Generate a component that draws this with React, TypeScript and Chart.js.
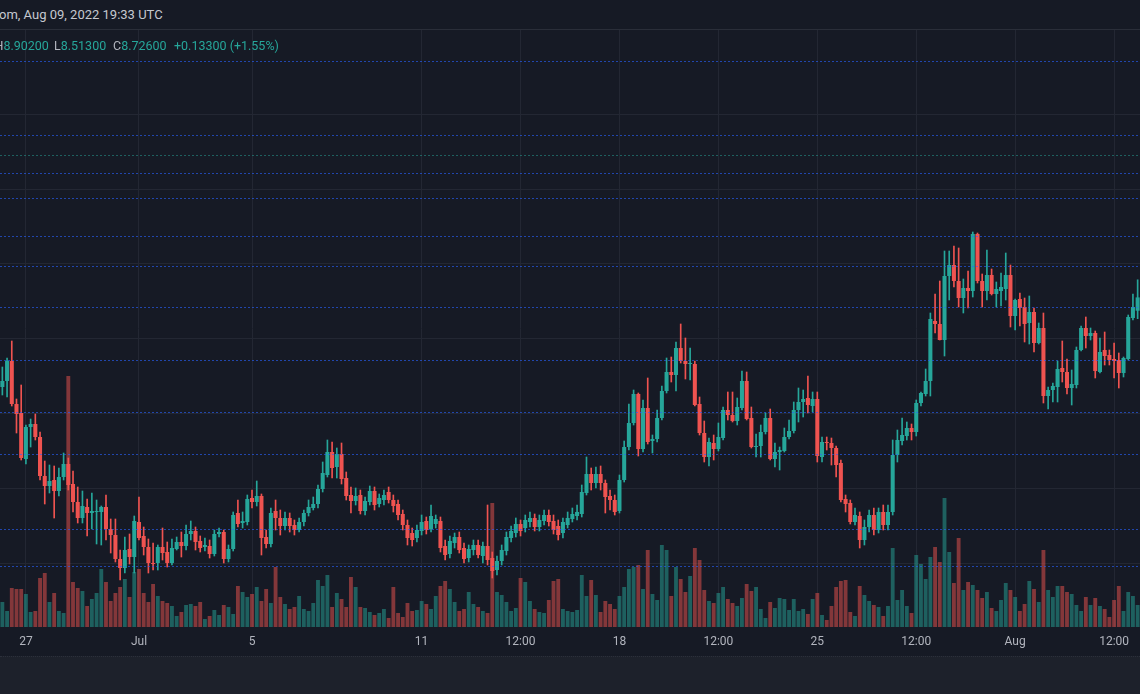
import React, { useEffect, useRef } from 'react';
import { Chart, registerables } from 'chart.js';

Chart.register(...registerables);

// 4h candles starting Jun 26 2022 04:00 UTC
const START_UTC = Date.UTC(2022, 5, 26, 4, 0);
const STEP_HOURS = 4;

const OPEN = [
  7.83, 7.89, 8.09, 7.66, 7.57, 7.11, 7.43, 7.46, 7.33, 6.94,
  6.84, 6.90, 6.79, 6.93, 7.06, 6.86, 6.68, 6.52, 6.63, 6.57,
  6.58, 6.58, 6.63, 6.41, 6.35, 6.11, 6.02, 6.21, 6.13, 6.48,
  6.34, 6.23, 6.07, 6.07, 6.23, 6.18, 6.07, 6.21, 6.28, 6.24,
  6.36, 6.39, 6.29, 6.23, 6.24, 6.16, 6.36, 6.38, 6.11, 6.21,
  6.57, 6.47, 6.48, 6.72, 6.68, 6.74, 6.33, 6.26, 6.59, 6.52,
  6.44, 6.52, 6.45, 6.40, 6.48, 6.57, 6.62, 6.66, 6.81, 6.95,
  7.18, 7.03, 7.16, 6.92, 6.75, 6.69, 6.75, 6.59, 6.68, 6.79,
  6.66, 6.70, 6.78, 6.70, 6.66, 6.56, 6.45, 6.37, 6.32, 6.39,
  6.49, 6.41, 6.46, 6.49, 6.24, 6.16, 6.27, 6.33, 6.22, 6.12,
  6.20, 6.25, 6.14, 6.24, 6.12, 6.00, 6.09, 6.19, 6.32, 6.37,
  6.46, 6.42, 6.48, 6.52, 6.43, 6.49, 6.55, 6.49, 6.44, 6.37,
  6.45, 6.51, 6.54, 6.56, 6.77, 6.96, 6.87, 6.96, 6.87, 6.74,
  6.70, 6.59, 6.90, 7.23, 7.47, 7.76, 7.21, 7.62, 7.29, 7.31,
  7.52, 7.79, 7.98, 7.95, 8.22, 8.09, 8.06, 8.06, 7.66, 7.37,
  7.13, 7.27, 7.21, 7.32, 7.60, 7.55, 7.49, 7.62, 7.89, 7.52,
  7.23, 7.24, 7.38, 7.52, 7.11, 7.18, 7.19, 7.33, 7.39, 7.60,
  7.68, 7.72, 7.64, 7.71, 7.13, 7.28, 7.27, 7.22, 7.07, 6.71,
  6.67, 6.48, 6.54, 6.30, 6.43, 6.55, 6.40, 6.58, 6.45, 6.58,
  7.15, 7.29, 7.34, 7.42, 7.38, 7.67, 7.76, 7.89, 8.49, 8.46,
  8.30, 8.94, 9.05, 8.89, 8.72, 8.82, 8.79, 9.36, 8.89, 8.79,
  8.95, 8.76, 8.79, 8.81, 8.95, 8.54, 8.71, 8.63, 8.47, 8.58,
  8.27, 8.42, 7.74, 7.80, 7.83, 8.02, 7.98, 7.82, 7.85, 8.20,
  8.42, 8.34, 8.37, 7.98, 8.20, 8.15, 8.11, 8.10, 7.97, 8.11,
  8.52, 8.593,
];

const HIGH = [
  8.03, 8.12, 8.29, 7.71, 7.85, 7.45, 7.51, 7.56, 7.38, 7.09,
  7.05, 7.04, 7.02, 7.17, 7.12, 6.99, 6.83, 6.79, 6.71, 6.77,
  6.70, 6.64, 6.75, 6.51, 6.51, 6.20, 6.33, 6.36, 6.54, 6.73,
  6.43, 6.31, 6.27, 6.25, 6.42, 6.28, 6.31, 6.33, 6.38, 6.45,
  6.49, 6.43, 6.34, 6.32, 6.30, 6.40, 6.42, 6.40, 6.25, 6.58,
  6.70, 6.58, 6.75, 6.80, 6.89, 6.76, 6.40, 6.62, 6.70, 6.60,
  6.58, 6.57, 6.50, 6.52, 6.60, 6.70, 6.73, 6.85, 7.08, 7.30,
  7.28, 7.22, 7.27, 6.98, 6.83, 6.82, 6.80, 6.73, 6.84, 6.83,
  6.76, 6.80, 6.83, 6.75, 6.70, 6.60, 6.50, 6.42, 6.45, 6.55,
  6.53, 6.65, 6.55, 6.53, 6.30, 6.34, 6.37, 6.38, 6.27, 6.25,
  6.30, 6.30, 6.28, 6.65, 6.18, 6.14, 6.25, 6.38, 6.44, 6.52,
  6.50, 6.55, 6.58, 6.56, 6.55, 6.60, 6.60, 6.55, 6.50, 6.52,
  6.58, 6.62, 6.65, 6.85, 7.13, 7.02, 7.03, 7.04, 6.90, 6.80,
  6.75, 6.95, 7.29, 7.66, 7.80, 7.77, 7.70, 7.92, 7.35, 7.60,
  7.84, 8.12, 8.13, 8.28, 8.46, 8.32, 8.22, 8.09, 7.73, 7.49,
  7.32, 7.35, 7.47, 7.63, 7.78, 7.78, 7.72, 7.99, 7.98, 7.63,
  7.36, 7.45, 7.57, 7.61, 7.27, 7.23, 7.42, 7.50, 7.68, 7.82,
  7.80, 7.94, 7.78, 7.78, 7.33, 7.33, 7.32, 7.24, 7.10, 6.75,
  6.70, 6.62, 6.58, 6.50, 6.60, 6.62, 6.62, 6.65, 6.65, 7.30,
  7.40, 7.52, 7.48, 7.46, 7.70, 7.78, 8.01, 8.57, 8.76, 8.89,
  9.19, 9.19, 9.24, 9.22, 8.91, 8.99, 9.38, 9.37, 8.96, 9.20,
  9.01, 8.88, 8.97, 9.17, 9.05, 8.71, 8.77, 8.72, 8.74, 8.62,
  8.47, 8.57, 7.83, 7.87, 8.09, 8.29, 8.11, 8.00, 8.23, 8.44,
  8.53, 8.42, 8.39, 8.32, 8.38, 8.20, 8.27, 8.17, 8.13, 8.55,
  8.76, 8.902,
];

const LOW = [
  7.75, 7.73, 7.64, 7.37, 7.10, 7.06, 7.23, 7.30, 6.90, 6.66,
  6.77, 6.52, 6.74, 6.90, 6.80, 6.58, 6.47, 6.47, 6.34, 6.41,
  6.26, 6.25, 6.30, 6.17, 6.08, 5.90, 5.97, 6.06, 5.97, 6.30,
  6.15, 5.97, 6.00, 6.00, 6.10, 6.03, 6.05, 6.20, 6.13, 6.20,
  6.30, 6.20, 6.18, 6.19, 6.12, 6.14, 6.33, 6.07, 6.08, 6.19,
  6.43, 6.42, 6.45, 6.62, 6.64, 6.15, 6.22, 6.23, 6.40, 6.35,
  6.40, 6.38, 6.35, 6.38, 6.44, 6.54, 6.60, 6.62, 6.78, 6.93,
  6.92, 6.92, 6.86, 6.70, 6.57, 6.65, 6.56, 6.55, 6.65, 6.60,
  6.63, 6.65, 6.67, 6.58, 6.50, 6.40, 6.25, 6.24, 6.28, 6.35,
  6.36, 6.38, 6.42, 6.18, 6.10, 6.12, 6.22, 6.17, 6.07, 6.08,
  6.15, 6.12, 6.07, 6.05, 5.92, 5.95, 6.05, 6.15, 6.28, 6.33,
  6.34, 6.38, 6.43, 6.39, 6.39, 6.45, 6.44, 6.36, 6.30, 6.32,
  6.42, 6.48, 6.50, 6.53, 6.75, 6.80, 6.82, 6.80, 6.57, 6.60,
  6.55, 6.57, 6.88, 7.20, 7.45, 7.14, 7.18, 7.26, 7.17, 7.28,
  7.50, 7.77, 7.88, 7.79, 8.07, 7.91, 7.90, 7.64, 7.35, 7.08,
  7.04, 7.10, 7.19, 7.30, 7.50, 7.48, 7.45, 7.60, 7.50, 7.22,
  7.13, 7.13, 7.36, 7.10, 7.03, 7.00, 7.18, 7.31, 7.37, 7.48,
  7.53, 7.57, 7.58, 7.08, 7.08, 7.20, 7.05, 6.93, 6.68, 6.58,
  6.46, 6.45, 6.22, 6.25, 6.38, 6.35, 6.37, 6.40, 6.40, 6.55,
  7.08, 7.25, 7.30, 7.30, 7.34, 7.64, 7.74, 7.74, 8.37, 8.30,
  8.14, 8.70, 8.83, 8.63, 8.57, 8.62, 8.73, 8.87, 8.63, 8.70,
  8.75, 8.63, 8.64, 8.70, 8.43, 8.40, 8.44, 8.28, 8.26, 8.18,
  8.26, 7.67, 7.61, 7.68, 7.68, 7.88, 7.76, 7.65, 7.82, 8.19,
  8.22, 8.30, 7.92, 7.97, 8.05, 8.05, 7.92, 7.82, 7.93, 8.10,
  8.50, 8.513,
];

const CLOSE = [
  7.89, 8.09, 7.66, 7.56, 7.12, 7.43, 7.46, 7.33, 6.94, 6.84,
  6.89, 6.79, 6.93, 7.06, 6.85, 6.68, 6.52, 6.64, 6.57, 6.59,
  6.59, 6.63, 6.41, 6.35, 6.11, 6.02, 6.20, 6.13, 6.49, 6.32,
  6.23, 6.07, 6.06, 6.23, 6.17, 6.07, 6.22, 6.28, 6.24, 6.36,
  6.39, 6.28, 6.22, 6.25, 6.16, 6.36, 6.38, 6.11, 6.21, 6.55,
  6.46, 6.49, 6.71, 6.68, 6.74, 6.32, 6.26, 6.57, 6.52, 6.44,
  6.52, 6.44, 6.40, 6.48, 6.57, 6.63, 6.66, 6.81, 6.97, 7.18,
  7.02, 7.16, 6.91, 6.74, 6.69, 6.74, 6.59, 6.69, 6.79, 6.65,
  6.72, 6.75, 6.70, 6.64, 6.55, 6.45, 6.32, 6.30, 6.40, 6.48,
  6.40, 6.54, 6.51, 6.22, 6.15, 6.29, 6.33, 6.20, 6.11, 6.21,
  6.25, 6.15, 6.24, 6.10, 5.99, 6.09, 6.20, 6.33, 6.39, 6.46,
  6.39, 6.50, 6.52, 6.43, 6.50, 6.55, 6.48, 6.40, 6.35, 6.48,
  6.52, 6.56, 6.58, 6.78, 6.96, 6.87, 6.96, 6.87, 6.73, 6.70,
  6.58, 6.90, 7.23, 7.47, 7.76, 7.21, 7.62, 7.28, 7.31, 7.52,
  7.79, 7.98, 7.95, 8.22, 8.09, 8.06, 8.07, 7.65, 7.37, 7.13,
  7.28, 7.21, 7.33, 7.60, 7.55, 7.49, 7.63, 7.89, 7.51, 7.23,
  7.24, 7.38, 7.52, 7.11, 7.18, 7.20, 7.33, 7.39, 7.60, 7.68,
  7.71, 7.65, 7.71, 7.14, 7.28, 7.27, 7.22, 7.05, 6.70, 6.66,
  6.48, 6.55, 6.30, 6.43, 6.55, 6.40, 6.58, 6.45, 6.58, 7.15,
  7.30, 7.35, 7.42, 7.38, 7.67, 7.77, 7.89, 8.51, 8.46, 8.30,
  8.94, 9.05, 8.89, 8.72, 8.82, 8.79, 9.36, 8.89, 8.79, 8.95,
  8.76, 8.81, 8.83, 8.95, 8.54, 8.70, 8.62, 8.46, 8.58, 8.27,
  8.42, 7.74, 7.80, 7.84, 8.01, 7.98, 7.82, 7.86, 8.20, 8.42,
  8.34, 8.37, 7.99, 8.18, 8.14, 8.10, 8.09, 7.97, 8.12, 8.53,
  8.63, 8.726,
];

// volume (thousands)
const VOLUME = [
  25, 16, 39, 38, 38, 33, 15, 16, 49, 54,
  25, 34, 16, 14, 251, 45, 39, 36, 21, 28,
  34, 58, 45, 26, 34, 40, 48, 30, 55, 58,
  34, 25, 43, 31, 26, 24, 21, 11, 15, 22,
  23, 21, 25, 8, 11, 17, 12, 22, 20, 13,
  41, 35, 30, 33, 40, 26, 38, 24, 60, 30,
  23, 18, 20, 31, 18, 16, 24, 47, 41, 52,
  20, 34, 28, 20, 50, 40, 20, 19, 15, 12,
  14, 18, 9, 40, 14, 10, 24, 16, 17, 26,
  23, 18, 31, 41, 46, 38, 25, 16, 18, 35,
  23, 20, 16, 14, 124, 35, 32, 25, 16, 19,
  49, 45, 26, 18, 15, 14, 27, 46, 48, 18,
  16, 15, 17, 52, 31, 47, 32, 15, 26, 23,
  18, 31, 40, 58, 60, 62, 38, 77, 33, 27,
  82, 77, 31, 60, 48, 35, 51, 79, 67, 37,
  26, 24, 34, 40, 28, 24, 21, 29, 43, 36,
  40, 18, 9, 25, 19, 29, 28, 17, 28, 16,
  18, 13, 28, 34, 12, 7, 21, 40, 46, 47,
  15, 11, 41, 32, 26, 22, 20, 11, 21, 79,
  27, 37, 21, 14, 72, 63, 48, 70, 80, 65,
  129, 75, 44, 89, 37, 45, 42, 37, 29, 35,
  19, 16, 27, 44, 37, 30, 16, 23, 46, 38,
  25, 77, 37, 30, 41, 41, 35, 33, 22, 16,
  30, 22, 29, 21, 18, 10, 27, 41, 16, 35,
  31, 22,
];

const TICK_INDEX = [5, 29, 53, 89, 110, 131, 152, 173, 194, 215, 236];
const TICK_LABELS = ['27', 'Jul', '5', '11', '12:00', '18', '12:00', '25', '12:00', 'Aug', '12:00'];

const GRID_LEVELS = [10.56, 9.81, 9.07, 8.32, 7.57, 6.82, 6.07];
const BLUE_LEVELS = [11.09, 10.35, 9.97, 9.72, 9.34, 9.04, 8.63, 8.10, 7.58, 7.16, 6.41, 6.04];
const TEAL_LEVELS = [10.15];

const PRICE_MIN = 5.43;
const PRICE_MAX = 11.40;
const VOLUME_MAX = 597;

const BG = '#161a25';
const GRID = '#232733';
const UP = '#26a69a';
const DOWN = '#ef5350';
const VOL_UP = 'rgba(38,166,154,0.5)';
const VOL_DOWN = 'rgba(239,83,80,0.5)';
const FONT = 'Roboto, "Noto Sans", sans-serif';

const levelsPlugin = {
  id: 'levels',
  beforeDatasetsDraw(chart: any) {
    const { ctx, chartArea, scales } = chart;
    const y = scales.y;
    ctx.save();
    ctx.lineWidth = 1;
    ctx.strokeStyle = GRID;
    GRID_LEVELS.forEach((v) => {
      const py = Math.round(y.getPixelForValue(v)) + 0.5;
      ctx.beginPath();
      ctx.moveTo(chartArea.left, py);
      ctx.lineTo(chartArea.right, py);
      ctx.stroke();
    });
    ctx.restore();
  },
  afterDatasetsDraw(chart: any) {
    const { ctx, chartArea, scales } = chart;
    const y = scales.y;
    ctx.save();
    ctx.lineWidth = 1;
    ctx.setLineDash([2, 2]);
    const draw = (levels: number[], color: string) => {
      ctx.strokeStyle = color;
      levels.forEach((v) => {
        const py = Math.round(y.getPixelForValue(v)) + 0.5;
        ctx.beginPath();
        ctx.moveTo(chartArea.left, py);
        ctx.lineTo(chartArea.right, py);
        ctx.stroke();
      });
    };
    draw(BLUE_LEVELS, 'rgba(41,98,255,0.62)');
    draw(TEAL_LEVELS, 'rgba(38,166,154,0.5)');
    ctx.restore();
  },
};

export default function App() {
  const ref = useRef<HTMLCanvasElement>(null);

  useEffect(() => {
    const labels = OPEN.map((_, i) =>
      new Date(START_UTC + i * STEP_HOURS * 3600e3).toISOString().slice(0, 16).replace('T', ' ')
    );
    const up = OPEN.map((o, i) => CLOSE[i] >= o);
    const chart = new Chart(ref.current as HTMLCanvasElement, {
      type: 'bar',
      data: {
        labels,
        datasets: [
          {
            label: 'Volume',
            data: VOLUME,
            yAxisID: 'yv',
            backgroundColor: up.map((u) => (u ? VOL_UP : VOL_DOWN)),
            grouped: false,
            barPercentage: 0.82,
            categoryPercentage: 1,
            order: 3,
          } as any,
          {
            label: 'Wick',
            data: LOW.map((l, i) => [l, HIGH[i]]),
            yAxisID: 'y',
            backgroundColor: up.map((u) => (u ? UP : DOWN)),
            grouped: false,
            barThickness: 1,
            order: 2,
          } as any,
          {
            label: 'Body',
            data: OPEN.map((o, i) => [o, CLOSE[i]]),
            yAxisID: 'y',
            backgroundColor: up.map((u) => (u ? UP : DOWN)),
            grouped: false,
            barPercentage: 0.86,
            categoryPercentage: 1,
            minBarLength: 1,
            order: 1,
          } as any,
        ],
      },
      options: {
        responsive: false,
        devicePixelRatio: 1,
        animation: false,
        events: [],
        layout: { padding: 0 },
        plugins: { legend: { display: false }, tooltip: { enabled: false } },
        scales: {
          x: {
            offset: true,
            border: { display: false },
            grid: {
              offset: false,
              drawTicks: false,
              color: (c: any) => (TICK_INDEX.includes(c.index) ? GRID : 'rgba(0,0,0,0)'),
            },
            ticks: {
              autoSkip: false,
              maxRotation: 0,
              minRotation: 0,
              padding: 8,
              color: '#b2b5be',
              font: { family: FONT, size: 12 },
              callback: (_v: any, i: number) => {
                const k = TICK_INDEX.indexOf(i);
                return k >= 0 ? TICK_LABELS[k] : '';
              },
            },
            afterFit: (s: any) => {
              s.height = 29;
              s.paddingLeft = 0;
              s.paddingRight = 0;
            },
          },
          y: { display: false, min: PRICE_MIN, max: PRICE_MAX },
          yv: { display: false, min: 0, max: VOLUME_MAX },
        },
      },
      plugins: [levelsPlugin],
    } as any);
    return () => chart.destroy();
  }, []);

  const txt: React.CSSProperties = { position: 'absolute', whiteSpace: 'nowrap', fontFamily: FONT };
  return (
    <div style={{ position: 'fixed', left: 0, top: 0, width: 1140, height: 694, background: BG, overflow: 'hidden' }}>
      <div style={{ ...txt, left: -1, top: 6, fontSize: 13, color: '#c5c8d0', lineHeight: '18px' }}>
        om, Aug 09, 2022 19:33 UTC
      </div>
      <div style={{ position: 'absolute', left: 0, top: 29, width: 1140, height: 1, background: '#2a2e39' }} />
      <canvas ref={ref} width={1140} height={626} style={{ position: 'absolute', left: 0, top: 30, display: 'block' }} />
      <div style={{ ...txt, left: -5.5, top: 38, fontSize: 12.5, lineHeight: '16px', color: '#b2b5be' }}>
        H<span style={{ color: UP }}>8.90200</span>
      </div>
      <div style={{ ...txt, left: 54, top: 38, fontSize: 12.5, lineHeight: '16px', color: '#b2b5be' }}>
        L<span style={{ color: UP }}>8.51300</span>
      </div>
      <div style={{ ...txt, left: 113, top: 38, fontSize: 12.5, lineHeight: '16px', color: '#b2b5be' }}>
        C<span style={{ color: UP }}>8.72600</span>
      </div>
      <div style={{ ...txt, left: 174, top: 38, fontSize: 12.5, lineHeight: '16px', color: UP }}>
        +0.13300 (+1.55%)
      </div>
      <div style={{ position: 'absolute', left: 0, top: 656, width: 1140, height: 38, background: '#1d212b', borderTop: '1px dotted #2c303b' }} />
    </div>
  );
}
